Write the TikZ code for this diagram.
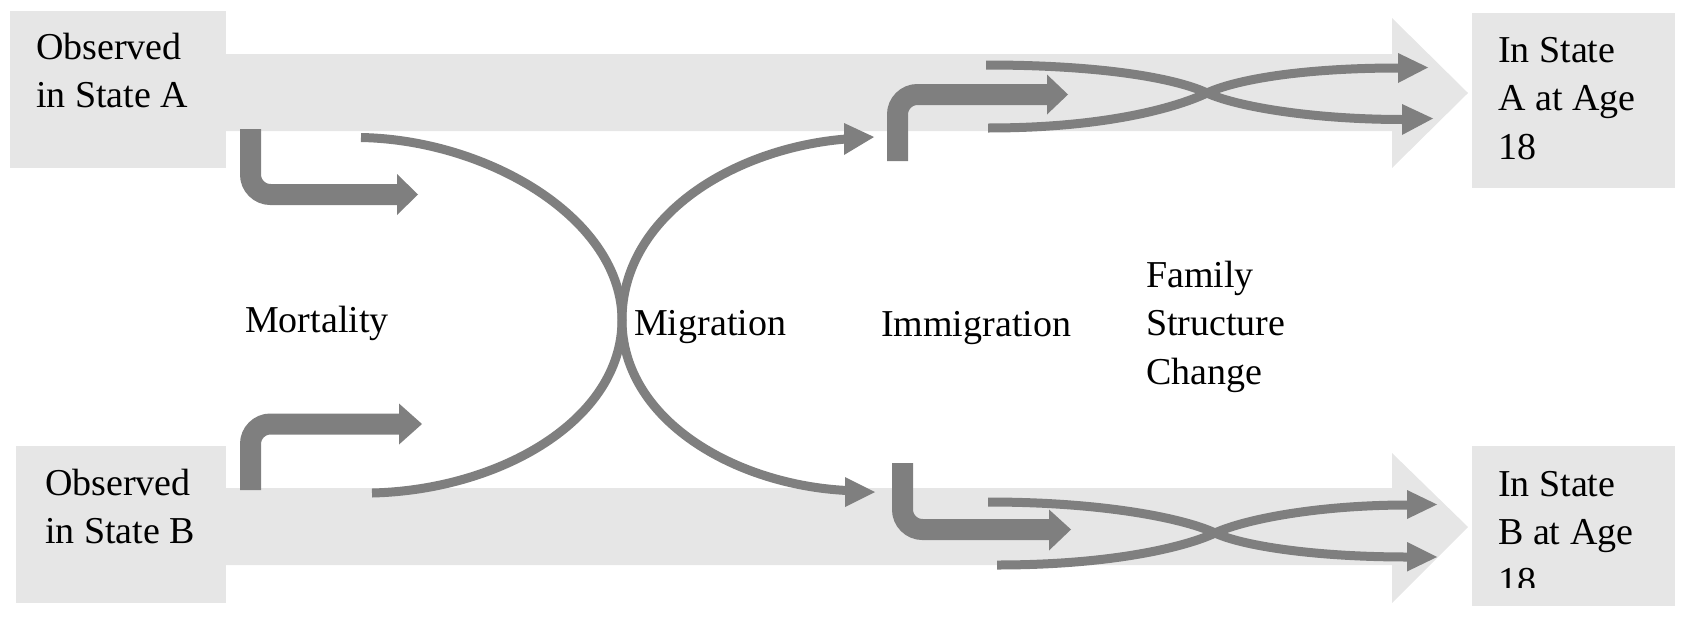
\documentclass[tikz,border=0pt]{standalone}
\usepackage{fontspec}
\setmainfont{Liberation Serif}
\definecolor{bandgray}{RGB}{230,230,230}
\definecolor{arrgray}{RGB}{127,127,127}
\begin{document}
\begin{tikzpicture}[x=1pt,y=-1pt,
  lbl/.style={anchor=base west, inner sep=0pt, font=\fontsize{38}{48.5}\selectfont},
  boxfill/.style={fill=bandgray, draw=none, inner sep=0pt, anchor=north west},
  bentarrow/.style={draw=arrgray, line width=21pt, rounded corners=20pt},
  flow/.style={draw=arrgray, line width=9pt},
  headfill/.style={fill=arrgray}]
\useasboundingbox (0,0) rectangle (1691,635);
% boxes
\node[boxfill, minimum width=216pt, minimum height=157pt] (obsA) at (10,11) {};
\node[boxfill, minimum width=210pt, minimum height=157pt] (obsB) at (16,446) {};
\node[boxfill, minimum width=203pt, minimum height=175pt] (inA) at (1472,13) {};
\node[boxfill, minimum width=203pt, minimum height=160pt] (inB) at (1472,446) {};
% bands
\fill[bandgray] (226,54) -- (1392,54) -- (1392,18) -- (1468,93) -- (1392,168) -- (1392,131) -- (226,131) -- cycle;
\fill[bandgray] (226,488) -- (1392,488) -- (1392,453) -- (1468,527) -- (1392,603) -- (1392,565) -- (226,565) -- cycle;
% mortality arrows
\coordinate (mA0) at (250.5,129);
\coordinate (mA1) at (398,194.5);
\draw[bentarrow] (mA0) |- (mA1);
\fill[headfill] (397,174) -- (418,194.5) -- (397,215) -- cycle;
\coordinate (mB0) at (250.5,490);
\coordinate (mB1) at (400,424);
\draw[bentarrow] (mB0) |- (mB1);
\fill[headfill] (399,403.5) -- (422,424) -- (399,444.5) -- cycle;
% migration curves
\coordinate (gA0) at (361,137.5);
\coordinate (gX) at (622,320);
\coordinate (gB1) at (847,490.5);
\draw[flow] (gA0) .. controls (490,140) and (622,220) .. (gX) .. controls (622,420) and (735,485) .. (gB1);
\fill[headfill] (845,477) -- (875,492) -- (845,507) -- cycle;
\coordinate (gB0) at (372,493);
\coordinate (gA1) at (846,139);
\draw[flow] (gB0) .. controls (500,490) and (622,420) .. (gX) .. controls (622,215) and (735,148) .. (gA1);
\fill[headfill] (844,123) -- (874,137) -- (844,155) -- cycle;
% immigration arrows
\coordinate (iA0) at (897.5,161);
\coordinate (iA1) at (1048,94.5);
\draw[bentarrow] (iA0) |- (iA1);
\fill[headfill] (1047,74.5) -- (1068,94.5) -- (1047,114.5) -- cycle;
\coordinate (iB0) at (902.5,463);
\coordinate (iB1) at (1050,529.5);
\draw[bentarrow] (iB0) |- (iB1);
\fill[headfill] (1049,509.5) -- (1071,529.5) -- (1049,550.5) -- cycle;
% family structure change, state A
\coordinate (fA1s) at (986,65);
\coordinate (fA2s) at (988,128);
\coordinate (fAX) at (1207,93);
\coordinate (fA1e) at (1403,119.5);
\coordinate (fA2e) at (1399,68);
\draw[flow] (fA1s) .. controls (1110,65) and (1180,80) .. (fAX) .. controls (1235,106) and (1310,119.5) .. (fA1e);
\fill[headfill] (1402,104) -- (1433,118.5) -- (1402,135) -- cycle;
\draw[flow] (fA2s) .. controls (1110,128) and (1180,106) .. (fAX) .. controls (1235,80) and (1300,68) .. (fA2e);
\fill[headfill] (1398,53) -- (1428,67.5) -- (1398,83) -- cycle;
% family structure change, state B
\coordinate (fB1s) at (988,502);
\coordinate (fB2s) at (997,565);
\coordinate (fBX) at (1215,533);
\coordinate (fB1e) at (1408,557);
\coordinate (fB2e) at (1408,505);
\draw[flow] (fB1s) .. controls (1110,502) and (1188,520) .. (fBX) .. controls (1243,546) and (1315,557) .. (fB1e);
\fill[headfill] (1407,542) -- (1437,557) -- (1407,571.5) -- cycle;
\draw[flow] (fB2s) .. controls (1115,565) and (1188,546) .. (fBX) .. controls (1243,520) and (1315,505) .. (fB2e);
\fill[headfill] (1407,490) -- (1437,504.5) -- (1407,519) -- cycle;
% texts
\node[lbl] (tOA) at (36,59) {\begin{tabular}[t]{@{}l@{}}Observed\\in State A\end{tabular}};
\node[lbl] (tOB) at (45,495) {\begin{tabular}[t]{@{}l@{}}Observed\\in State B\end{tabular}};
\node[lbl] (tRA) at (1498,62) {\begin{tabular}[t]{@{}l@{}}In State\\A at Age\\18\end{tabular}};
\begin{scope}
\clip (1472,446) rectangle (1675,587);
\node[lbl] (tRB) at (1498,496) {\begin{tabular}[t]{@{}l@{}}In State\\B at Age\\18\end{tabular}};
\end{scope}
\node[lbl] (tMort) at (245,332) {Mortality};
\node[lbl] (tMig) at (634,335) {Migration};
\node[lbl] (tImm) at (881,336) {Immigration};
\node[lbl] (tFam) at (1146,287) {\begin{tabular}[t]{@{}l@{}}Family\\Structure\\Change\end{tabular}};
\end{tikzpicture}
\end{document}
